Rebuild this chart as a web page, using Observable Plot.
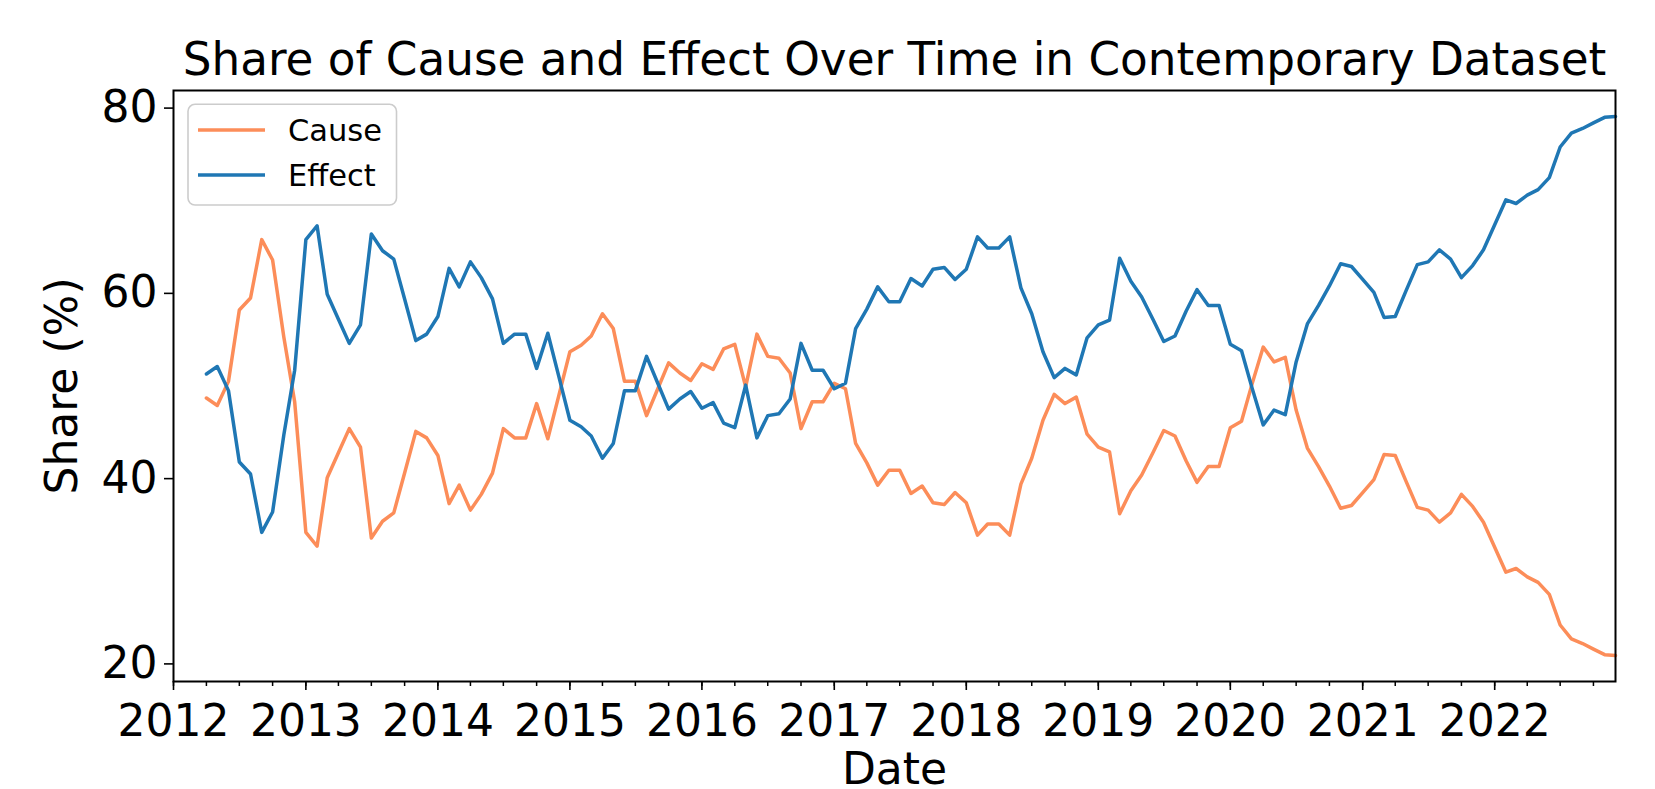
<!DOCTYPE html>
<html>
<head>
<meta charset="utf-8">
<script src="https://cdn.jsdelivr.net/npm/d3@7"></script>
<script src="https://cdn.jsdelivr.net/npm/@observablehq/plot@0.6"></script>
<style>
  body { margin: 0; background: #fff; }
  #wrap { position: relative; width: 1655px; height: 789px; overflow: hidden; background: #fff; }
  #wrap svg { display: block; }
  #legend { position: absolute; left: 0; top: 0; pointer-events: none; }
</style>
</head>
<body>
<div id="wrap"></div>
<script>
// ---- data (monthly, Apr 2012 – Dec 2022) ----
const startMonth = "2012-04-01";
const endMonth = "2022-12-01";
const seriesNames = ["Cause", "Effect"];
const seriesColors = ["#fc8d59", "#1f77b4"];

const causeValues = [
  48.7, 47.9, 50.5, 58.2, 59.5, 65.8, 63.6, 55.3, 48.3, 34.2,
  32.7, 40.1, 42.8, 45.4, 43.4, 33.6, 35.4, 36.3, 40.6, 45.1,
  44.4, 42.5, 37.3, 39.3, 36.6, 38.3, 40.6, 45.4, 44.4, 44.4,
  48.1, 44.3, 48.9, 53.7, 54.4, 55.4, 57.8, 56.2, 50.5, 50.5,
  46.8, 49.7, 52.5, 51.4, 50.6, 52.4, 51.8, 54.0, 54.5, 49.9,
  55.6, 53.2, 53.0, 51.4, 45.4, 48.3, 48.3, 50.3, 49.7, 43.8,
  41.7, 39.3, 40.9, 40.9, 38.4, 39.2, 37.4, 37.2, 38.5, 37.4,
  33.9, 35.1, 35.1, 33.9, 39.4, 42.2, 46.3, 49.1, 48.1, 48.8,
  44.8, 43.4, 42.9, 36.2, 38.7, 40.4, 42.8, 45.2, 44.6, 41.9,
  39.6, 41.3, 41.3, 45.5, 46.2, 50.2, 54.2, 52.6, 53.1, 47.4,
  43.3, 41.3, 39.2, 36.8, 37.1, 38.5, 39.9, 42.6, 42.5, 39.7,
  36.9, 36.6, 35.3, 36.3, 38.3, 37.0, 35.3, 32.6, 29.9, 30.3,
  29.4, 28.8, 27.5, 24.2, 22.7, 22.2, 21.6, 21.0, 20.9
];

const effectValues = [
  51.3, 52.1, 49.5, 41.8, 40.5, 34.2, 36.4, 44.7, 51.7, 65.8,
  67.3, 59.9, 57.2, 54.6, 56.6, 66.4, 64.6, 63.7, 59.4, 54.9,
  55.6, 57.5, 62.7, 60.7, 63.4, 61.7, 59.4, 54.6, 55.6, 55.6,
  51.9, 55.7, 51.1, 46.3, 45.6, 44.6, 42.2, 43.8, 49.5, 49.5,
  53.2, 50.3, 47.5, 48.6, 49.4, 47.6, 48.2, 46.0, 45.5, 50.1,
  44.4, 46.8, 47.0, 48.6, 54.6, 51.7, 51.7, 49.7, 50.3, 56.2,
  58.3, 60.7, 59.1, 59.1, 61.6, 60.8, 62.6, 62.8, 61.5, 62.6,
  66.1, 64.9, 64.9, 66.1, 60.6, 57.8, 53.7, 50.9, 51.9, 51.2,
  55.2, 56.6, 57.1, 63.8, 61.3, 59.6, 57.2, 54.8, 55.4, 58.1,
  60.4, 58.7, 58.7, 54.5, 53.8, 49.8, 45.8, 47.4, 46.9, 52.6,
  56.7, 58.7, 60.8, 63.2, 62.9, 61.5, 60.1, 57.4, 57.5, 60.3,
  63.1, 63.4, 64.7, 63.7, 61.7, 63.0, 64.7, 67.4, 70.1, 69.7,
  70.6, 71.2, 72.5, 75.8, 77.3, 77.8, 78.4, 79.0, 79.1
];

const yTicks = [20, 40, 60, 80];
const xDomain = ["2012-01-01", "2022-12-01"];
const yDomain = [18.1, 81.9];

const titleText = "Share of Cause and Effect Over Time in Contemporary Dataset";
const xLabel = "Date";
const yLabel = "Share (%)";

// ---- build table ----
const dates = d3.utcMonth.range(new Date(startMonth), d3.utcMonth.offset(new Date(endMonth), 1));
const table = [];
dates.forEach((d, i) => {
  table.push({date: d, series: "Cause", value: causeValues[i]});
  table.push({date: d, series: "Effect", value: effectValues[i]});
});

const yearTicks = d3.utcYear.range(new Date("2012-01-01"), new Date("2023-01-01"));
const quarterTicks = d3.utcMonth.every(3).range(new Date("2012-01-01"), new Date("2022-12-02"));

const font = "'DejaVu Sans', 'Liberation Sans', sans-serif";

const chart = Plot.plot({
  width: 1655,
  height: 789,
  marginLeft: 173,
  marginRight: 40,
  marginTop: 90,
  marginBottom: 108,
  style: {fontFamily: font, fontSize: "44px", color: "black", background: "white", overflow: "visible"},
  x: {type: "utc", domain: xDomain.map(s => new Date(s))},
  y: {domain: yDomain},
  color: {domain: seriesNames, range: seriesColors},
  marks: [
    Plot.axisX({ticks: quarterTicks, tickSize: 5, text: null, label: null, strokeWidth: 1.5}),
    Plot.axisX({ticks: yearTicks, tickSize: 9, tickPadding: 14, tickFormat: d3.utcFormat("%Y"), label: null, strokeWidth: 1.6, fontSize: 44}),
    Plot.axisY({ticks: yTicks, tickSize: 9, tickPadding: 7, label: null, strokeWidth: 1.6, fontSize: 44}),
    Plot.line(table.filter(d => d.series === "Cause"), {x: "date", y: "value", stroke: "series", strokeWidth: 3.5}),
    Plot.line(table.filter(d => d.series === "Effect"), {x: "date", y: "value", stroke: "series", strokeWidth: 3.5}),
    Plot.frame({stroke: "black", strokeWidth: 2}),
    Plot.text([titleText], {frameAnchor: "top", dy: -16, lineAnchor: "bottom", textAnchor: "middle", fontSize: 45.3, fill: "black"}),
    Plot.text([xLabel], {frameAnchor: "bottom", dy: 102, lineAnchor: "bottom", textAnchor: "middle", fontSize: 44, fill: "black"}),
    Plot.text([yLabel], {frameAnchor: "left", dx: -97, rotate: -90, lineAnchor: "bottom", textAnchor: "middle", fontSize: 44, fill: "black"})
  ]
});

const wrap = document.getElementById("wrap");
wrap.appendChild(chart);

// ---- legend (matplotlib-style box, upper left) ----
const leg = d3.create("svg")
  .attr("id", "legend")
  .attr("width", 1655)
  .attr("height", 789)
  .style("font-family", font);

leg.append("rect")
  .attr("x", 188).attr("y", 104.3)
  .attr("width", 208.5).attr("height", 100.7)
  .attr("rx", 7).attr("ry", 7)
  .attr("fill", "white").attr("fill-opacity", 0.8)
  .attr("stroke", "#cccccc").attr("stroke-width", 1.6);

const legendRows = [130, 175];
seriesNames.forEach((name, i) => {
  leg.append("line")
    .attr("x1", 198).attr("x2", 265)
    .attr("y1", legendRows[i]).attr("y2", legendRows[i])
    .attr("stroke", seriesColors[i]).attr("stroke-width", 3.5);
  leg.append("text")
    .attr("x", 288).attr("y", legendRows[i] + 10.8)
    .attr("font-size", 30.5)
    .attr("fill", "black")
    .text(name);
});

wrap.appendChild(leg.node());
</script>
</body>
</html>
